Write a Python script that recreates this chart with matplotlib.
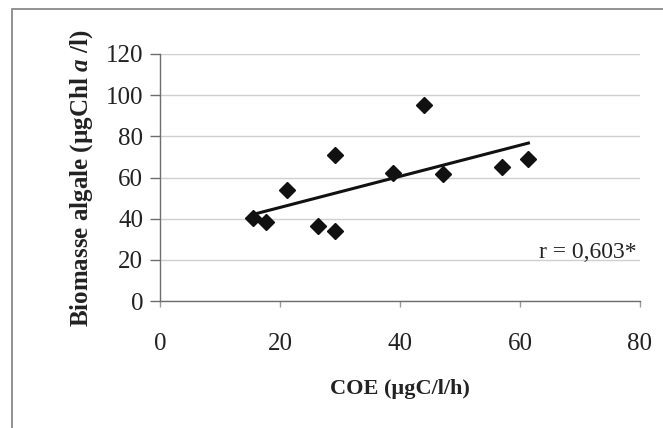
import numpy as np
import matplotlib
matplotlib.use("Agg")
import matplotlib.pyplot as plt
from matplotlib.patches import Rectangle

# values
coe = np.array([15.5, 17.7, 21.2, 26.4, 29.2, 29.2, 38.9, 44.0, 47.2, 57.0, 61.4])
biomasse = np.array([40.3, 38.2, 53.9, 36.4, 70.9, 34.0, 62.0, 95.1, 61.7, 65.2, 69.0])
x_ticks = [0, 20, 40, 60, 80]
y_ticks = [0, 20, 40, 60, 80, 100, 120]
r_label = "r = 0,603*"

plt.rcParams['font.family'] = ['Liberation Serif', 'DejaVu Serif']
plt.rcParams['mathtext.fontset'] = 'custom'
plt.rcParams['mathtext.it'] = 'Liberation Serif:italic:bold'
plt.rcParams['mathtext.rm'] = 'Liberation Serif:bold'

fig = plt.figure(figsize=(6.63, 4.28), dpi=100)
ax = fig.add_axes([160 / 663, 127 / 428, 480 / 663, 247 / 428])

# frame around the whole chart (right and bottom edges fall outside the picture)
fig.patches.append(Rectangle((12 / 663, -0.1), 1.2, 1.1 - 9 / 428, transform=fig.transFigure,
                             fill=False, edgecolor='#8a8a8a', linewidth=1.3))

ax.plot(coe, biomasse, linestyle='none', marker='D', markersize=8.5,
        color='#111111', zorder=3)

# linear trend
a, b = np.polyfit(coe, biomasse, 1)
xl = np.array([coe.min(), coe.max()])
ax.plot(xl, a * xl + b, color='#111111', linewidth=2.2, zorder=2)

ax.set_xlim(0, 80)
ax.set_ylim(0, 120)
ax.set_xticks(x_ticks)
ax.set_yticks(y_ticks)
ax.grid(axis='y', color='#cfcfcf', linewidth=1.0)
ax.set_axisbelow(True)

for s in ['top', 'right']:
    ax.spines[s].set_visible(False)
for s in ['left', 'bottom']:
    ax.spines[s].set_color('#6e6e6e')
    ax.spines[s].set_linewidth(1.0)

ax.tick_params(axis='y', direction='out', length=7, width=1, color='#6e6e6e',
               labelsize=18, pad=5, labelcolor='#222222')
ax.tick_params(axis='x', direction='out', length=4, width=1, color='#9a9a9a',
               labelsize=18, pad=19, labelcolor='#222222')

ax.set_xlabel('COE (µgC/l/h)', fontsize=16, fontweight='bold', color='#222222')
ax.set_ylabel(r'Biomasse algale (µgChl $\mathit{a}$ /l)', fontsize=18, fontweight='bold',
              color='#222222')
ax.xaxis.set_label_coords(0.5, -0.315)
ax.yaxis.set_label_coords(-0.135, 0.495)

ax.text(79.5, 23.5, r_label, ha='right', va='center', fontsize=17, color='#222222')

fig.savefig('out.png', dpi=100)
